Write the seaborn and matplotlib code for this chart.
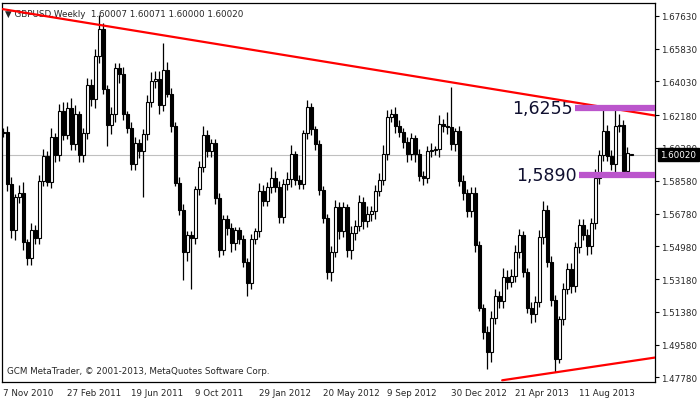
import numpy as np
import pandas as pd
import seaborn as sns
import matplotlib
matplotlib.use("Agg")
import matplotlib.pyplot as plt

# weekly closes GBPUSD (7 Nov 2010 onward)
closes = [
    1.6127, 1.5841, 1.5585, 1.5766, 1.5793, 1.5520, 1.5434, 1.5585, 1.5543, 1.5859,
    1.5992, 1.5850, 1.6099, 1.5999, 1.6242, 1.6109, 1.6260, 1.6059, 1.6223, 1.5999,
    1.6118, 1.6384, 1.6309, 1.6542, 1.6692, 1.6364, 1.6163, 1.6222, 1.6477, 1.6442,
    1.6223, 1.6149, 1.5948, 1.6067, 1.6021, 1.6112, 1.6291, 1.6406, 1.6418, 1.6273,
    1.6468, 1.6336, 1.6158, 1.5848, 1.5698, 1.5467, 1.5562, 1.5543, 1.5811, 1.5935,
    1.6109, 1.6021, 1.6067, 1.5762, 1.5480, 1.5649, 1.5598, 1.5516, 1.5585, 1.5540,
    1.5412, 1.5294, 1.5538, 1.5580, 1.5804, 1.5749, 1.5821, 1.5872, 1.5826, 1.5658,
    1.5839, 1.5866, 1.6003, 1.5862, 1.5841, 1.6118, 1.6264, 1.6140, 1.6059, 1.5808,
    1.5656, 1.5356, 1.5467, 1.5711, 1.5580, 1.5711, 1.5480, 1.5571, 1.5611, 1.5739,
    1.5635, 1.5677, 1.5689, 1.5802, 1.5862, 1.6003, 1.6209, 1.6222, 1.6160, 1.6127,
    1.6068, 1.6003, 1.6090, 1.6003, 1.5884, 1.5875, 1.6021, 1.6027, 1.6030, 1.6167,
    1.6158, 1.6154, 1.6059, 1.6130, 1.5857, 1.5793, 1.5689, 1.5793, 1.5507, 1.5161,
    1.5028, 1.4915, 1.5102, 1.5224, 1.5197, 1.5328, 1.5303, 1.5334, 1.5465, 1.5562,
    1.5358, 1.5161, 1.5124, 1.5193, 1.5549, 1.5695, 1.5412, 1.5201, 1.4878, 1.5097,
    1.5265, 1.5374, 1.5279, 1.5492, 1.5616, 1.5562, 1.5498, 1.5625, 1.5872, 1.5999,
    1.6132, 1.5996, 1.5948, 1.6158, 1.6163, 1.5914, 1.6012, 1.6002,
]
first_open = 1.6120

# wick lengths in pips (upper above body top, lower below body bottom)
upper_pips = [
    20, 30, 40, 20, 40, 60, 20, 40, 30, 30,
    40, 30, 50, 20, 40, 50, 30, 50, 50, 20,
    30, 40, 30, 40, 78, 30, 20, 40, 30, 30,
    40, 20, 30, 30, 20, 30, 40, 50, 40, 40,
    146, 40, 30, 20, 30, 30, 20, 20, 20, 30,
    50, 30, 20, 20, 30, 20, 20, 30, 20, 20,
    20, 20, 30, 20, 40, 30, 30, 60, 40, 30,
    30, 40, 50, 20, 30, 20, 40, 20, 20, 20,
    20, 20, 30, 40, 30, 30, 20, 40, 30, 40,
    30, 40, 30, 30, 40, 50, 40, 30, 40, 30,
    20, 30, 30, 20, 30, 30, 30, 40, 20, 50,
    30, 80, 219, 20, 30, 30, 20, 30, 30, 20,
    20, 30, 40, 40, 30, 50, 40, 40, 40, 30,
    20, 20, 30, 30, 40, 49, 30, 30, 30, 20,
    30, 30, 30, 30, 30, 30, 30, 30, 50, 30,
    123, 30, 30, 97, 60, 30, 30, 5,
]
lower_pips = [
    20, 40, 40, 50, 30, 40, 40, 40, 30, 30,
    30, 20, 30, 40, 30, 30, 20, 30, 30, 40,
    40, 30, 40, 50, 40, 30, 115, 50, 40, 50,
    30, 30, 30, 30, 40, 253, 30, 30, 40, 50,
    30, 20, 30, 20, 30, 152, 50, 282, 30, 30,
    30, 30, 30, 30, 40, 30, 40, 50, 40, 30,
    30, 70, 30, 30, 30, 30, 30, 30, 30, 30,
    30, 30, 40, 30, 30, 30, 30, 30, 30, 30,
    30, 40, 50, 30, 40, 30, 40, 50, 40, 30,
    40, 30, 40, 40, 30, 30, 30, 30, 40, 30,
    30, 40, 30, 40, 30, 40, 30, 30, 30, 40,
    30, 40, 30, 40, 30, 40, 30, 30, 40, 20,
    40, 92, 50, 30, 40, 40, 40, 30, 30, 30,
    30, 30, 50, 40, 30, 40, 30, 30, 73, 20,
    30, 30, 40, 30, 30, 30, 50, 40, 30, 30,
    30, 30, 30, 40, 30, 30, 30, 2,
]

date_labels = ["7 Nov 2010", "27 Feb 2011", "19 Jun 2011", "9 Oct 2011", "29 Jan 2012",
               "20 May 2012", "9 Sep 2012", "30 Dec 2012", "21 Apr 2013", "11 Aug 2013"]
price_ticks = [1.67630, 1.65830, 1.64030, 1.62180, 1.60380, 1.58580, 1.56780,
               1.54980, 1.53180, 1.51380, 1.49580, 1.47780]
last_price = 1.60020

# trend lines (bar index, price) and the two levels
upper_trend = {"bar": [-0.25, 163.0], "price": [1.6801, 1.6216]}
lower_trend = {"bar": [124.75, 163.0], "price": [1.4762, 1.4887]}
resistance = 1.6255
support = 1.5890

df = pd.DataFrame({"close": closes})
df["open"] = df["close"].shift(1).fillna(first_open)
df.loc[len(df) - 1, "open"] = 1.60007
df["top"] = df[["open", "close"]].max(axis=1)
df["bot"] = df[["open", "close"]].min(axis=1)
df["high"] = df["top"] + np.array(upper_pips) / 10000
df["low"] = df["bot"] - np.array(lower_pips) / 10000
df["bar"] = np.arange(len(df))

sns.set_style("white")
plt.rcParams["font.family"] = ["DejaVu Sans"]

fig = plt.figure(figsize=(7.0, 4.02), dpi=100)
# plot area: x 2..655 px, y 4..383 px
ax = fig.add_axes([0.003, 0.047, 0.933, 0.943])

ax.axhline(last_price, color="#c0c0c0", lw=0.8, zorder=1)

ax.vlines(df["bar"], df["low"], df["high"], color="black", lw=0.9, zorder=2)
up = df[df["close"] >= df["open"]]
dn = df[df["close"] < df["open"]]
ax.bar(up["bar"], (up["top"] - up["bot"]).clip(lower=0.0002), bottom=up["bot"], width=0.7,
       color="white", edgecolor="black", linewidth=0.8, zorder=3)
ax.bar(dn["bar"], dn["top"] - dn["bot"], bottom=dn["bot"], width=0.7,
       color="black", edgecolor="black", linewidth=0.8, zorder=3)

sns.lineplot(x=upper_trend["bar"], y=upper_trend["price"], ax=ax, color="red", lw=1.6, zorder=4)
sns.lineplot(x=lower_trend["bar"], y=lower_trend["price"], ax=ax, color="red", lw=1.6, zorder=4)

ax.hlines(resistance, 143, 163, color="#bb55cc", lw=4.5, zorder=5)
ax.hlines(support, 144, 163, color="#bb55cc", lw=4.5, zorder=5)
ax.text(142.5, resistance, "1,6255", ha="right", va="center", fontsize=12.5, color="#101030")
ax.text(143.5, support, "1,5890", ha="right", va="center", fontsize=12.5, color="#101030")

ax.set_xlim(-0.25, 163)
ax.set_ylim(1.4752, 1.6834)
ax.yaxis.tick_right()
ax.set_yticks(price_ticks)
ax.set_yticklabels([f"{p:.5f}" for p in price_ticks], fontsize=6.3)
ax.set_xticks(np.arange(0, 160, 16))
ax.set_xticklabels(date_labels, fontsize=6.3, ha="left")
ax.tick_params(axis="both", length=3, direction="out", color="black", pad=1.5)
for s in ax.spines.values():
    s.set_color("black")
    s.set_linewidth(0.9)

ax.text(0.005, 0.985, "\u25bc GBPUSD,Weekly  1.60007 1.60071 1.60000 1.60020",
        transform=ax.transAxes, fontsize=6.3, va="top", ha="left")
ax.text(0.008, 0.02, "GCM MetaTrader, \u00a9 2001-2013, MetaQuotes Software Corp.",
        transform=ax.transAxes, fontsize=6.3, va="bottom", ha="left")
ax.text(1.008, last_price, "1.60020", transform=ax.get_yaxis_transform(), fontsize=6.3,
        va="center", ha="left", color="white", zorder=10, clip_on=False,
        bbox=dict(boxstyle="square,pad=0.25", fc="black", ec="black"))

fig.savefig("out.png", dpi=100)
